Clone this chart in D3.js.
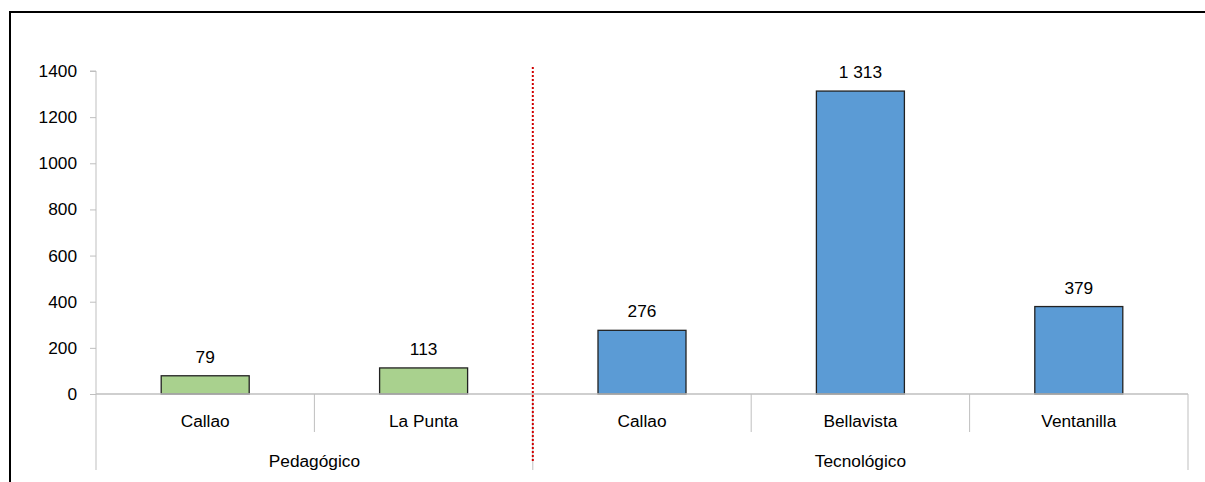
<!DOCTYPE html>
<html><head><meta charset="utf-8">
<script src="https://cdn.jsdelivr.net/npm/d3@7"></script>
<style>body{margin:0;background:#fff}svg{display:block}text{font-family:"Liberation Sans",Arial,sans-serif;fill:#000}</style>
</head><body><svg id="c" width="1205" height="482"></svg>
<script>
const groups = ["Pedagógico","Pedagógico","Tecnológico","Tecnológico","Tecnológico"];
const categories = ["Callao","La Punta","Callao","Bellavista","Ventanilla"];
const values = [79,113,276,1313,379];
const colors = ["#A9D18E","#A9D18E","#5B9BD5","#5B9BD5","#5B9BD5"];
const yTicks = [0,200,400,600,800,1000,1200,1400];
const groupNames = ["Pedagógico","Tecnológico"];

const FS = 17.3;
const svg = d3.select("#c");
// outer frame
svg.append("rect").attr("x",10).attr("y",12).attr("width",1300).attr("height",600)
  .attr("fill","none").attr("stroke","#000").attr("stroke-width",2);

const left=96, right=1188, y0=394, y1400=71;
const x = d3.scaleBand().domain(d3.range(categories.length)).range([left,right]).paddingInner(0).paddingOuter(0);
const y = d3.scaleLinear().domain([0,1400]).range([y0,y1400]);
const fmt = v => d3.format(",")(v).replace(/,/g," ");

// y axis
const ya = svg.append("g").attr("transform",`translate(${left},0)`)
  .call(d3.axisLeft(y).tickValues(yTicks).tickSize(6).tickPadding(13).tickFormat(d3.format("d")));
ya.select(".domain").attr("stroke","#bfbfbf").attr("d",`M-6,${y(1400)}H0V${y0}`);
ya.selectAll(".tick line").attr("stroke","#bfbfbf");
ya.selectAll(".tick text").attr("font-size",FS).attr("font-family","Liberation Sans, Arial, sans-serif").attr("fill","#000");

// y axis extension below
svg.append("line").attr("x1",left).attr("x2",left).attr("y1",y0).attr("y2",470).attr("stroke","#bfbfbf");

// bars
const bw = 88;
svg.append("g").selectAll("rect").data(values).join("rect")
  .attr("x",(d,i)=>x(i)+x.bandwidth()/2-bw/2).attr("width",bw)
  .attr("y",d=>y(d)).attr("height",d=>y0-y(d))
  .attr("fill",(d,i)=>colors[i]).attr("stroke","#222").attr("stroke-width",1.3);

// x axis line
svg.append("line").attr("x1",left).attr("x2",right).attr("y1",y0).attr("y2",y0).attr("stroke","#bfbfbf").attr("stroke-width",1.5);

// category dividers
d3.range(1,categories.length).forEach(i=>{
  const isGroup = groups[i]!==groups[i-1];
  svg.append("line").attr("x1",x(i)).attr("x2",x(i)).attr("y1",y0).attr("y2",isGroup?470:432).attr("stroke","#bfbfbf");
});
svg.append("line").attr("x1",right).attr("x2",right).attr("y1",y0).attr("y2",470).attr("stroke","#bfbfbf");

// red dotted separator
const sepI = groups.findIndex(g=>g===groupNames[1]);
svg.append("line").attr("x1",x(sepI)).attr("x2",x(sepI)).attr("y1",67).attr("y2",462)
  .attr("stroke","#d00000").attr("stroke-width",2).attr("stroke-dasharray","2,2");

// value labels
svg.append("g").selectAll("text").data(values).join("text")
  .attr("x",(d,i)=>x(i)+x.bandwidth()/2).attr("y",d=>y(d)-13)
  .attr("text-anchor","middle").attr("font-size",FS).text(d=>fmt(d));

// category labels
svg.append("g").selectAll("text").data(categories).join("text")
  .attr("x",(d,i)=>x(i)+x.bandwidth()/2).attr("y",427)
  .attr("text-anchor","middle").attr("font-size",FS).text(d=>d);

// group labels
groupNames.forEach(g=>{
  const idx = d3.range(groups.length).filter(i=>groups[i]===g);
  const cx = (x(idx[0]) + x(idx[idx.length-1])+x.bandwidth())/2;
  svg.append("text").attr("x",cx).attr("y",467).attr("text-anchor","middle").attr("font-size",FS).text(g);
});
</script></body></html>
